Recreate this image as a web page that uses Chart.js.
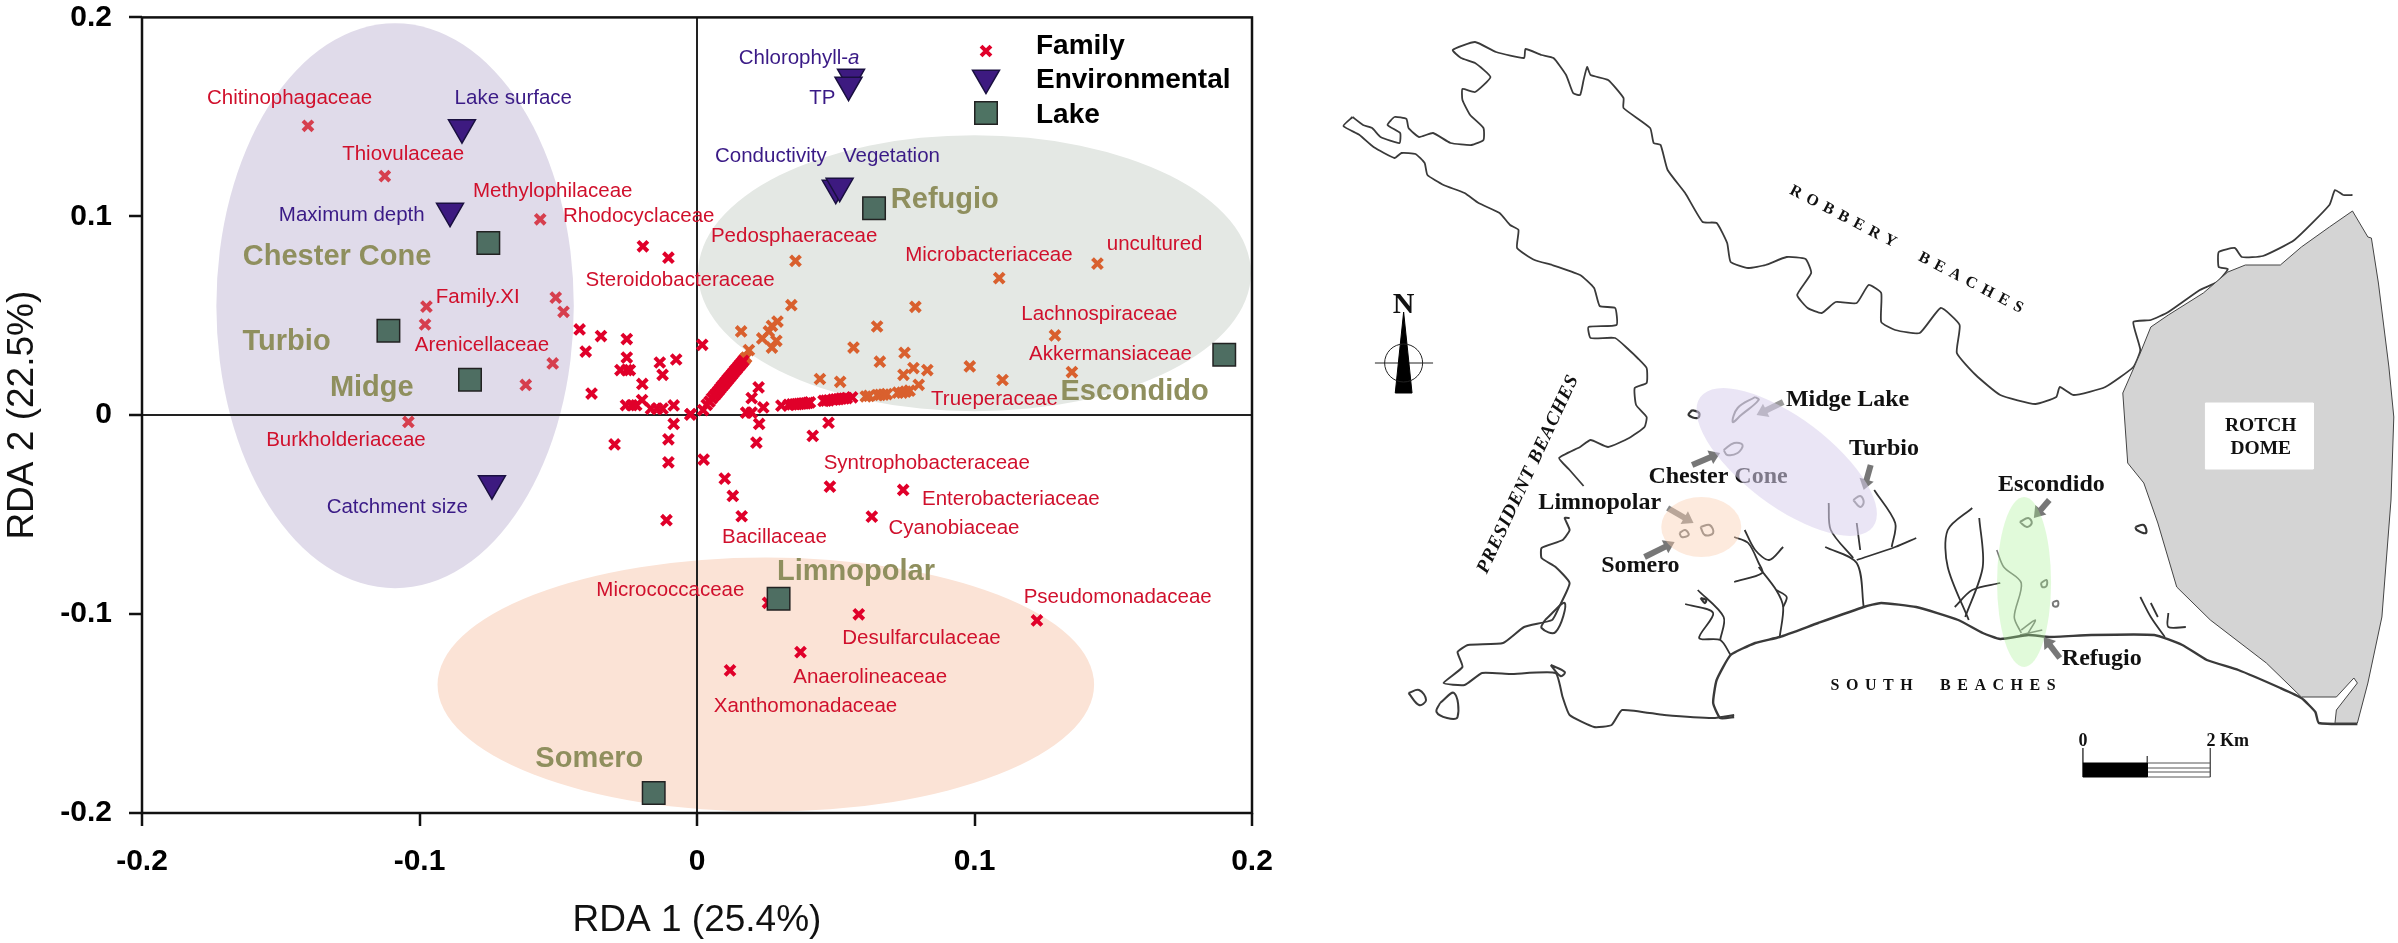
<!DOCTYPE html>
<html>
<head>
<meta charset="utf-8">
<title>RDA ordination and lake map</title>
<script src="https://cdn.jsdelivr.net/npm/chart.js@4/dist/chart.umd.js"></script>
<style>
  html, body { margin: 0; padding: 0; background: #fff; width: 2398px; height: 943px; overflow: hidden; }
  canvas { position: absolute; top: 0; }
  #rdaChart { left: 0; }
  #mapChart { left: 1300px; }
</style>
</head>
<body>
<canvas id="rdaChart" width="1300" height="943"></canvas>
<canvas id="mapChart" width="1098" height="943"></canvas>
<script>
// axes
const axisTicks = [-0.2, -0.1, 0, 0.1, 0.2];

// family scores, split by the ellipse they sit under
const familyPurple = [[-.1402,.1455],[-.1125,.1202],[-.0565,.0985],[-.0975,.0546],[-.098,.0456],[-.0509,.0591],[-.0481,.052],[-.052,.026],[-.0617,.0152],[-.104,-.0034]];
const familyGreen = [[.0355,.0776],[.034,.0553],[.0159,.0421],[.029,.0471],[.027,.0449],[.0259,.0421],[.0235,.0386],[.0286,.0374],[.027,.034],[.0187,.0327],[.0177,.029],[.0172,.0282],
  [.0564,.034],[.0649,.0446],[.0787,.0545],[.1089,.0689],[.1443,.0762],[.129,.0401],[.1351,.0217],[.1101,.0177],[.0983,.0245],[.083,.0227],[.078,.0237],[.0744,.0203],[.0799,.0153],[.0748,.0314],[.0659,.0269],[.0443,.0182],[.0516,.0168],
  [.0608,.0094],[.062,.0097],[.065,.0101],[.066,.0102],[.0672,.0104],[.0684,.0106],[.0724,.0113],[.0739,.0114],[.0752,.0118],[.0766,.0123]];
const familyRed = [[-.0195,.0849],[-.0103,.0792],[-.0423,.0431],[-.0401,.032],[-.0346,.0398],[-.0253,.0383],[-.0253,.029],[-.0276,.0227],[-.0253,.0227],[-.0242,.0227],[-.0134,.0265],[-.0075,.028],[-.0124,.0203],[-.0197,.0157],[-.038,.0109],
  [-.0297,-.0147],[-.0103,-.0121],[-.0103,-.0237],[-.0084,-.0044],[-.0256,.005],[-.0235,.005],[-.0219,.005],[-.0198,.0076],[-.0166,.0033],[-.0144,.0033],[-.0124,.0033],[-.0084,.0049],[-.0023,.0006],
  [.0019,.0354],[-.0024,.0003],[.0022,.0026],
  [.0035,.0052],[.0045,.0068],[.0054,.0085],[.0062,.0098],[.007,.011],[.0077,.0122],[.0084,.0134],[.009,.0145],[.0096,.0154],[.0101,.0163],[.0106,.0171],[.0111,.018],[.0116,.0188],[.0121,.0196],[.0126,.0205],[.0131,.0213],[.0137,.0224],[.0143,.0233],[.0149,.0244],[.0155,.0253],[.0161,.0263],[.0167,.0273],
  [.0222,.014],[.0197,.0086],[.0239,.0039],[.0177,.0013],[.0197,.0013],[.0224,-.0044],[.0214,-.0138],[.0417,-.0104],[.0474,-.0038],[.0024,-.0223],
  [.0304,.0048],[.033,.0052],[.0342,.0054],[.0352,.0055],[.036,.0056],[.0368,.0057],[.0376,.0058],[.0384,.0059],[.0392,.006],[.04,.0062],[.0407,.0064],
  [.0456,.0072],[.0465,.0073],[.0475,.0075],[.049,.0078],[.05,.0079],[.051,.0081],[.052,.0083],[.053,.0084],[.054,.0086],[.0559,.009],
  [.01,-.0319],[.0129,-.0406],[.0161,-.0508],[.0479,-.0359],[.0743,-.0376],[.063,-.051],[.0583,-.1001],[.1225,-.1032],[.0373,-.1191],[.0119,-.1283],[.0256,-.0943],[-.011,-.0528]];

// environmental variables and lakes
const envPoints = [[-.0847,.1446],[-.089,.1026],[-.0739,-.0344],[.0555,.17],[.0546,.166],[.05,.1142],[.0514,.1152]];
const lakePoints = [[-.0752,.0866],[-.1112,.0424],[-.0818,.0178],[.0638,.104],[.19,.0304],[.0294,-.0923],[-.0156,-.19]];

// text labels: name, x, y in axis units
const familyLabels = [["Chitinophagaceae",-.1468,.1595],["Thiovulaceae",-.1059,.1309],["Methylophilaceae",-.052,.1124],["Rhodocyclaceae",-.021,.0998],["Steroidobacteraceae",-.0061,.068],["Family.XI",-.079,.0591],["Arenicellaceae",-.0775,.0349],["Burkholderiaceae",-.1265,-.0128],["Pedosphaeraceae",.035,.0901],["Microbacteriaceae",.1052,.0805],["uncultured",.1649,.086],["Lachnospiraceae",.145,.0506],["Akkermansiaceae",.149,.0307],["Trueperaceae",.1072,.0078],["Syntrophobacteraceae",.0828,-.0242],["Enterobacteriaceae",.1131,-.0423],["Cyanobiaceae",.0926,-.0571],["Bacillaceae",.0279,-.0615],["Micrococcaceae",-.0096,-.0881],["Pseudomonadaceae",.1516,-.0916],["Desulfarculaceae",.0809,-.1124],["Anaerolineaceae",.0624,-.132],["Xanthomonadaceae",.0391,-.1462]];
const envLabels = [["Lake surface",-.0662,.1594],["Maximum depth",-.1244,.1007],["Catchment size",-.108,-.0463],["TP",.0452,.1592],["Conductivity",.0266,.1301],["Vegetation",.0701,.1299]];
const lakeLabels = [["Chester Cone",-.1297,.0797],["Turbio",-.1479,.0367],["Midge",-.1172,.0135],["Refugio",.0893,.1082],["Escondido",.1577,.0119],["Limnopolar",.0573,-.0789],["Somero",-.0388,-.1726]];

// ellipses: x, y, radius x, radius y in axis units
const purpleEllipse = [-.1088,.055,.0644,.142];
const greenEllipse = [.1,.0714,.0996,.0694];
const orangeEllipse = [.0248,-.1355,.1183,.0639];

// map outlines, in map units
const coastNorthWest = [[75,117],[62,126],[85,135],[105,147],[135,158],[145,153],[165,154],[178,163],[182,175],[205,185],[235,193],[255,203],[285,213],[300,225],[312,230],[310,248],[335,260],[360,265],[400,275],[420,288],[428,306],[450,308],[452,325],[412,327],[415,338],[450,338],[470,350],[482,358],[495,368],[495,383],[478,388],[480,405],[495,417],[492,427],[470,438],[440,447],[415,440],[400,447],[370,458],[385,470],[405,486]];
const coastNorth = [[75,117],[90,125],[103,128],[115,137],[142,143],[143,133],[125,125],[135,117],[152,119],[155,128],[170,137],[190,133],[215,143],[245,145],[262,140],[262,128],[243,115],[232,100],[232,89],[250,92],[272,77],[250,63],[230,58],[218,50],[250,42],[280,52],[320,58],[322,49],[345,55],[362,58],[380,75],[390,93],[400,95],[405,80],[410,67],[415,75],[440,80],[462,98],[462,108],[500,128],[505,143],[515,145],[525,170],[550,193],[575,222],[595,223],[610,243],[615,262],[640,268],[665,265],[695,257],[722,259],[730,273],[710,295],[725,308],[745,313],[765,302],[795,303],[812,285],[830,293],[830,322],[850,330],[885,333],[915,308],[942,325],[938,353],[965,375],[1000,395],[1050,404],[1080,397],[1085,387],[1105,395],[1150,387],[1190,367],[1200,350],[1190,322],[1215,320],[1240,312],[1285,290],[1310,282],[1325,269],[1312,267],[1312,252],[1335,248],[1345,257],[1375,256],[1420,240],[1470,205],[1478,190],[1490,195],[1503,195]];
const coastSouth = [[620,717],[600,718],[590,703],[595,680],[615,655],[650,643],[685,637],[740,623],[805,607],[830,603],[880,607],[940,620],[975,633],[1000,639],[1040,635],[1070,637],[1130,635],[1220,635],[1260,645],[1295,660],[1340,670],[1400,688],[1430,698],[1450,712],[1455,723],[1510,724]];
const coastWest = [[385,518],[378,518],[385,530],[375,540],[345,548],[345,558],[365,567],[385,583],[370,607],[360,620],[320,627],[290,643],[240,645],[225,652],[232,667],[205,683],[235,685],[260,673],[300,674],[365,673],[375,697],[385,715],[420,727],[445,725],[460,710],[520,715],[590,718],[620,715]];
const islandA = [[155,693],[170,690],[180,700],[170,705],[155,693]];
const islandB = [[200,703],[220,693],[225,717],[210,718],[195,712],[200,703]];
const lagoonA = [[350,620],[378,603],[365,632],[345,628],[350,620]];
const lagoonB = [[358,665],[378,672],[372,676],[358,665]];
const streams = [
  [[620,537],[640,543],[655,563],[660,573],[620,582]],
  [[635,530],[650,550],[670,560],[690,547]],
  [[655,567],[680,590],[690,607],[685,637]],
  [[680,590],[695,597],[690,607]],
  [[550,604],[590,613],[570,638],[600,640],[615,655]],
  [[568,590],[605,617],[600,640]],
  [[805,607],[795,563],[750,547]],
  [[795,560],[850,547],[880,538]],
  [[755,503],[758,530],[790,558]],
  [[795,523],[800,550]],
  [[820,490],[850,523],[845,547]],
  [[955,620],[925,567],[925,530],[960,508]],
  [[950,617],[975,567],[970,518]],
  [[935,607],[960,590],[1000,583]],
  [[1200,597],[1215,617],[1235,637]],
  [[1215,603],[1225,617]],
  [[1240,613],[1240,627],[1265,627]]
];
const greyStreams = [
  [[995,550],[1005,567],[1030,583],[1020,617],[1030,633]],
  [[1040,633],[1050,620],[1030,630]],
  [[1028,635],[1060,630]]
];
const lakeRings = [
  [[650,397],[625,408],[618,422],[630,415],[655,400],[650,397]],
  [[605,450],[620,443],[632,445],[625,453],[610,455],[605,450]],
  [[790,500],[800,496],[805,502],[800,507],[790,500]],
  [[572,527],[585,525],[590,533],[578,535],[572,527]],
  [[542,533],[550,530],[555,535],[545,537],[542,533]],
  [[1028,522],[1040,518],[1045,523],[1038,527],[1028,522]],
  [[1058,583],[1066,580],[1066,586],[1060,587],[1058,583]],
  [[1075,602],[1082,601],[1082,606],[1076,606],[1075,602]]
];
const darkRings = [
  [[560,410],[570,413],[568,418],[555,415],[560,410]],
  [[1193,527],[1205,525],[1208,533],[1195,530],[1193,527]],
  [[572,598],[580,600],[578,603],[572,598]]
];
const dome = [[1503,211],[1525,237],[1530,238],[1540,283],[1555,367],[1562,417],[1558,500],[1545,617],[1525,683],[1510,723],[1478,723],[1480,710],[1510,683],[1505,678],[1480,697],[1430,697],[1380,663],[1300,620],[1252,587],[1225,523],[1205,483],[1182,463],[1180,443],[1175,393],[1200,353],[1215,327],[1240,315],[1290,293],[1325,272],[1350,265],[1400,265],[1430,247],[1470,227],[1503,211]];
const domeBox = [[1293,403],[1447,403],[1447,469],[1293,469],[1293,403]];
const needle = [[148,312],[160,393],[136,393],[148,312]];
const compassLine = [[107,363],[190,363]];
const scaleBarBlack = [[1118,763],[1210,763],[1210,777],[1118,777],[1118,763]];
const scaleBarLines = [
  [[1210,763],[1300,763],[1300,777],[1210,777]],
  [[1210,768],[1300,768]],
  [[1210,772],[1300,772]],
  [[1118,748],[1118,763]],
  [[1210,756],[1210,763]],
  [[1300,748],[1300,763]]
];

// map labels: name, x, y
const mapLabels = [["Midge Lake",782,400],["Turbio",834,449],["Chester Cone",597,477],["Limnopolar",428,503],["Escondido",1073,485],["Somero",486,566],["Refugio",1145,659]];
const domeLabels = [["ROTCH",1372,426],["DOME",1372,449]];
// arrows: x0, y0, x1, y1, colour
const mapArrows = [[690,402,652,415,"#9a9a9a"],[560,465,600,453,"#777"],[815,465,805,490,"#777"],[525,508,562,523,"#8a8a8a"],[492,557,535,542,"#777"],[1070,500,1048,518,"#777"],[1085,658,1062,637,"#777"]];

const xy = arr => arr.map(p => ({ x: p[0], y: p[1] }));
const sansFont = '"Liberation Sans", Arial, sans-serif';
const serifFont = '"Liberation Serif", "Times New Roman", serif';

function drawEllipse(ctx, chart, e, colour) {
  const sx = chart.scales.x, sy = chart.scales.y;
  const cx = sx.getPixelForValue(e[0]), cy = sy.getPixelForValue(e[1]);
  const rx = Math.abs(sx.getPixelForValue(e[0] + e[2]) - cx);
  const ry = Math.abs(sy.getPixelForValue(e[1] + e[3]) - cy);
  ctx.save();
  ctx.fillStyle = colour;
  ctx.beginPath();
  ctx.ellipse(cx, cy, rx, ry, 0, 0, Math.PI * 2);
  ctx.fill();
  ctx.restore();
}

function drawLabels(ctx, chart, labels, font, colour) {
  ctx.font = font;
  ctx.fillStyle = colour;
  ctx.textAlign = "center";
  ctx.textBaseline = "middle";
  labels.forEach(l => ctx.fillText(l[0], chart.scales.x.getPixelForValue(l[1]), chart.scales.y.getPixelForValue(l[2])));
}

// left panel: ellipses under the grid, frame, labels and legend
const rdaPlugin = {
  id: "rdaDecor",
  beforeDraw(chart) {
    const ctx = chart.ctx;
    drawEllipse(ctx, chart, purpleEllipse, "#e0dbea");
    drawEllipse(ctx, chart, greenEllipse, "#e4e8e4");
    drawEllipse(ctx, chart, orangeEllipse, "#fbe3d6");
  },
  afterDatasetsDraw(chart) {
    const ctx = chart.ctx, a = chart.chartArea;
    ctx.save();
    ctx.strokeStyle = "#111";
    ctx.lineWidth = 2.5;
    ctx.strokeRect(a.left, a.top, a.right - a.left, a.bottom - a.top);

    drawLabels(ctx, chart, familyLabels, "20.5px " + sansFont, "#d0102c");
    drawLabels(ctx, chart, envLabels, "20.5px " + sansFont, "#3a1a86");
    drawLabels(ctx, chart, lakeLabels, "bold 29px " + sansFont, "#8f8f5e");

    // Chlorophyll-a has an italic a
    const cx = chart.scales.x.getPixelForValue(.0368), cy = chart.scales.y.getPixelForValue(.1796);
    ctx.font = "20.5px " + sansFont;
    const w1 = ctx.measureText("Chlorophyll-").width;
    ctx.font = "italic 20.5px " + sansFont;
    const w2 = ctx.measureText("a").width;
    ctx.textAlign = "left";
    ctx.fillStyle = "#3a1a86";
    ctx.fillText("a", cx - (w1 + w2) / 2 + w1, cy);
    ctx.font = "20.5px " + sansFont;
    ctx.fillText("Chlorophyll-", cx - (w1 + w2) / 2, cy);

    // legend
    const draw = Chart.helpers.drawPoint;
    ctx.strokeStyle = "#e0002a"; ctx.fillStyle = "#e0002a"; ctx.lineWidth = 4;
    draw(ctx, { pointStyle: "crossRot", radius: 7, borderWidth: 4 }, 986, 51);
    ctx.strokeStyle = "#1a1040"; ctx.fillStyle = "#3d1a80"; ctx.lineWidth = 1.5;
    draw(ctx, { pointStyle: "triangle", rotation: 180, radius: 15.6, borderWidth: 1.5 }, 986, 78);
    ctx.strokeStyle = "#222"; ctx.fillStyle = "#4e7363";
    draw(ctx, { pointStyle: "rect", radius: 15.9, borderWidth: 1.5 }, 986, 113);
    ctx.fillStyle = "#000";
    ctx.font = "bold 28px " + sansFont;
    ctx.textAlign = "left";
    ctx.fillText("Family", 1036, 46);
    ctx.fillText("Environmental", 1036, 80);
    ctx.fillText("Lake", 1036, 115);
    ctx.restore();
  }
};

const makeAxis = (title, tickGap, extra) => Object.assign({
  type: "linear", min: -0.2, max: 0.2,
  afterBuildTicks: s => { s.ticks = axisTicks.map(v => ({ value: v })); },
  border: { display: false },
  grid: {
    color: c => (c.tick && c.tick.value === 0) ? "#222" : "rgba(0,0,0,0)",
    lineWidth: 2, tickLength: 13, tickColor: "#111", tickWidth: 2.5
  },
  ticks: {
    color: "#000", autoSkip: false, maxRotation: 0, padding: tickGap,
    font: { family: "Liberation Sans", size: 30, weight: "bold", lineHeight: 1 },
    callback: v => String(v)
  },
  title: {
    display: true, text: title, color: "#111",
    font: { family: "Liberation Sans", size: 37, lineHeight: 1 }
  }
}, extra);

new Chart(document.getElementById("rdaChart"), {
  type: "scatter",
  data: {
    datasets: [
      { label: "Lake", data: xy(lakePoints), pointStyle: "rect", radius: 15.9, backgroundColor: "#4e6e62", borderColor: "#222", borderWidth: 1.5 },
      { label: "Environmental", data: xy(envPoints), pointStyle: "triangle", rotation: 180, radius: 15.6, backgroundColor: "#3d1a80", borderColor: "#1a1040", borderWidth: 1.5 },
      { label: "Family", data: xy(familyRed), pointStyle: "crossRot", radius: 7, borderColor: "#e0002a", borderWidth: 4 },
      { label: "Family", data: xy(familyGreen), pointStyle: "crossRot", radius: 7, borderColor: "#d9602e", borderWidth: 4 },
      { label: "Family", data: xy(familyPurple), pointStyle: "crossRot", radius: 7, borderColor: "#d63f4e", borderWidth: 4 }
    ]
  },
  options: {
    responsive: false,
    animation: false,
    devicePixelRatio: 1,
    layout: { padding: { top: 16, right: 48, bottom: 0, left: 0 } },
    plugins: { legend: { display: false }, tooltip: { enabled: false } },
    scales: {
      x: makeAxis("RDA 1 (25.4%)", 21, { position: "bottom", afterFit: s => { s.height = 130; s.paddingLeft = 0; s.paddingRight = 0; } }),
      y: makeAxis("RDA 2 (22.5%)", 17, { position: "left", afterFit: s => { s.width = 142; s.paddingTop = 0; s.paddingBottom = 0; } })
    }
  },
  plugins: [rdaPlugin]
});

// right panel: text and arrows sit under the translucent ellipses
const mapPlugin = {
  id: "mapDecor",
  afterDatasetsDraw(chart) {
    const ctx = chart.ctx, sx = chart.scales.x, sy = chart.scales.y;
    ctx.save();
    drawLabels(ctx, chart, mapLabels, "bold 24px " + serifFont, "#111");
    drawLabels(ctx, chart, domeLabels, "bold 19.5px " + serifFont, "#111");

    // spaced and rotated coast names
    const spaced = (text, x, y, deg, font, gap) => {
      ctx.save();
      ctx.translate(sx.getPixelForValue(x), sy.getPixelForValue(y));
      ctx.rotate(deg * Math.PI / 180);
      ctx.font = font;
      ctx.letterSpacing = gap + "px";
      ctx.textAlign = "center";
      ctx.textBaseline = "middle";
      ctx.fillStyle = "#111";
      ctx.fillText(text, 0, 0);
      ctx.restore();
    };
    spaced("ROBBERY  BEACHES", 870, 251, 27.4, "bold 16px " + serifFont, 6.5);
    spaced("PRESIDENT BEACHES", 326, 474, -64.9, "italic bold 19px " + serifFont, 1);
    spaced("SOUTH  BEACHES", 923, 686, 0, "bold 16px " + serifFont, 6.5);
    spaced("N", 148, 305, 0, "bold 30px " + serifFont, 0);
    spaced("0", 1118, 741, 0, "bold 18px " + serifFont, 0);
    spaced("2 Km", 1325, 741, 0, "bold 18px " + serifFont, 0);

    // compass ring
    ctx.strokeStyle = "#222";
    ctx.lineWidth = 1;
    ctx.beginPath();
    ctx.ellipse(sx.getPixelForValue(148), sy.getPixelForValue(363), 19, 19, 0, 0, Math.PI * 2);
    ctx.stroke();

    // arrows to the lakes
    mapArrows.forEach(a => {
      const x0 = sx.getPixelForValue(a[0]), y0 = sy.getPixelForValue(a[1]);
      const x1 = sx.getPixelForValue(a[2]), y1 = sy.getPixelForValue(a[3]);
      const t = Math.atan2(y1 - y0, x1 - x0);
      ctx.strokeStyle = a[4];
      ctx.fillStyle = a[4];
      ctx.lineWidth = 6;
      ctx.beginPath();
      ctx.moveTo(x0, y0);
      ctx.lineTo(x1 - 8 * Math.cos(t), y1 - 8 * Math.sin(t));
      ctx.stroke();
      ctx.beginPath();
      ctx.moveTo(x1, y1);
      ctx.lineTo(x1 - 13 * Math.cos(t - .6), y1 - 13 * Math.sin(t - .6));
      ctx.lineTo(x1 - 13 * Math.cos(t + .6), y1 - 13 * Math.sin(t + .6));
      ctx.closePath();
      ctx.fill();
    });

    // lake group ellipses over the map
    ctx.fillStyle = "rgba(216,208,236,0.55)";
    ctx.beginPath();
    ctx.ellipse(sx.getPixelForValue(695), sy.getPixelForValue(462), 108, 44, 37 * Math.PI / 180, 0, Math.PI * 2);
    ctx.fill();
    ctx.fillStyle = "rgba(250,205,175,0.42)";
    ctx.beginPath();
    ctx.ellipse(sx.getPixelForValue(573), sy.getPixelForValue(527), 40, 30, 0, 0, Math.PI * 2);
    ctx.fill();
    ctx.fillStyle = "rgba(170,240,150,0.35)";
    ctx.beginPath();
    ctx.ellipse(sx.getPixelForValue(1034), sy.getPixelForValue(582), 27, 85, 0, 0, Math.PI * 2);
    ctx.fill();
    ctx.restore();
  }
};

const lineSet = (pts, colour, width, bend) => ({
  data: xy(pts), showLine: true, pointRadius: 0, borderColor: colour, borderWidth: width, fill: false, tension: bend === undefined ? 0.15 : bend
});
const fillSet = (pts, colour, edge) => ({
  data: xy(pts), showLine: true, pointRadius: 0, borderColor: edge, borderWidth: 1, backgroundColor: colour, fill: "shape", tension: 0
});

new Chart(document.getElementById("mapChart"), {
  type: "scatter",
  data: {
    datasets: [
      fillSet(scaleBarBlack, "#000", "#000"),
      fillSet(needle, "#000", "#000"),
      fillSet(domeBox, "#fff", "#fff"),
      fillSet(dome, "#d4d4d4", "#444"),
      lineSet(coastNorth, "#3a3a3a", 1.8),
      lineSet(coastNorthWest, "#3a3a3a", 1.8),
      lineSet(coastSouth, "#3a3a3a", 2.4),
      lineSet(coastWest, "#3a3a3a", 2),
      lineSet(islandA, "#3a3a3a", 2, 0.4),
      lineSet(islandB, "#3a3a3a", 2, 0.4),
      lineSet(lagoonA, "#3a3a3a", 2, 0.4),
      lineSet(lagoonB, "#3a3a3a", 2, 0.4),
      lineSet(compassLine, "#222", 1, 0),
      ...streams.map(s => lineSet(s, "#333", 1.8, 0.3)),
      ...greyStreams.map(s => lineSet(s, "#777", 1.6, 0.3)),
      ...lakeRings.map(s => lineSet(s, "#777", 2, 0.4)),
      ...darkRings.map(s => lineSet(s, "#333", 2.2, 0.4)),
      ...scaleBarLines.map(s => lineSet(s, "#555", 1, 0))
    ]
  },
  options: {
    responsive: false,
    animation: false,
    devicePixelRatio: 1,
    layout: { padding: 0 },
    plugins: { legend: { display: false }, tooltip: { enabled: false } },
    scales: {
      x: { type: "linear", min: 0, max: 1568, display: false },
      y: { type: "linear", min: 0, max: 943, reverse: true, display: false }
    }
  },
  plugins: [mapPlugin]
});
</script>
</body>
</html>
